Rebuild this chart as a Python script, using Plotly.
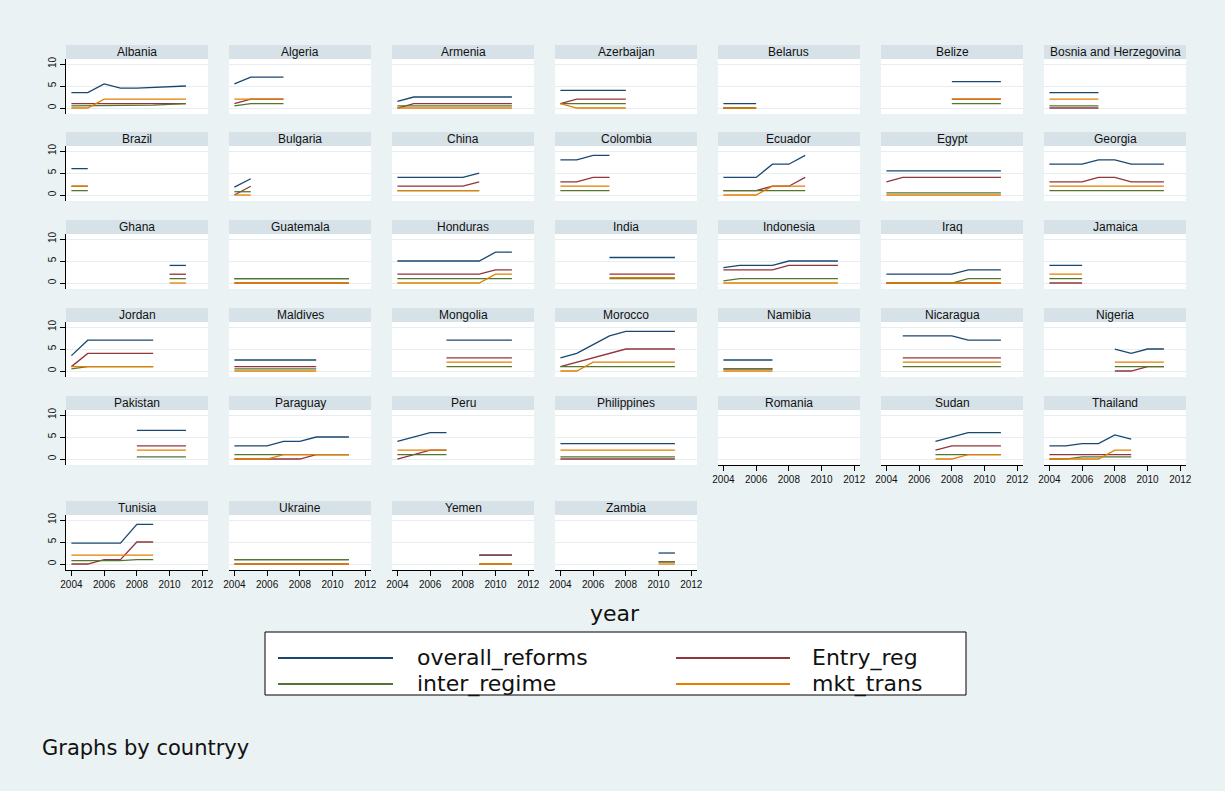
import plotly.graph_objects as go

# ---------------- data ----------------
countries = ["Albania", "Algeria", "Armenia", "Azerbaijan", "Belarus", "Belize", "Bosnia and Herzegovina",
             "Brazil", "Bulgaria", "China", "Colombia", "Ecuador", "Egypt", "Georgia",
             "Ghana", "Guatemala", "Honduras", "India", "Indonesia", "Iraq", "Jamaica",
             "Jordan", "Maldives", "Mongolia", "Morocco", "Namibia", "Nicaragua", "Nigeria",
             "Pakistan", "Paraguay", "Peru", "Philippines", "Romania", "Sudan", "Thailand",
             "Tunisia", "Ukraine", "Yemen", "Zambia"]

start_year = [2004, 2004, 2004, 2004, 2004, 2008, 2004,
              2004, 2004, 2004, 2004, 2004, 2004, 2004,
              2010, 2004, 2004, 2007, 2004, 2004, 2004,
              2004, 2004, 2007, 2004, 2004, 2005, 2008,
              2008, 2004, 2004, 2004, 2004, 2007, 2004,
              2004, 2004, 2009, 2010]

overall_reforms = [
    [3.5, 3.5, 5.5, 4.5, 4.5, 4.67, 4.83, 5],
    [5.5, 7, 7, 7],
    [1.5, 2.5, 2.5, 2.5, 2.5, 2.5, 2.5, 2.5],
    [4, 4, 4, 4, 4],
    [1, 1, 1],
    [6, 6, 6, 6],
    [3.5, 3.5, 3.5, 3.5],
    [6, 6],
    [1.8, 3.7],
    [4, 4, 4, 4, 4, 5],
    [8, 8, 9, 9],
    [4, 4, 4, 7, 7, 9],
    [5.5, 5.5, 5.5, 5.5, 5.5, 5.5, 5.5, 5.5],
    [7, 7, 7, 8, 8, 7, 7, 7],
    [4, 4],
    [1, 1, 1, 1, 1, 1, 1, 1],
    [5, 5, 5, 5, 5, 5, 7, 7],
    [5.8, 5.8, 5.8, 5.8, 5.8],
    [3.5, 4, 4, 4, 5, 5, 5, 5],
    [2, 2, 2, 2, 2, 3, 3, 3],
    [4, 4, 4],
    [3.5, 7, 7, 7, 7, 7],
    [2.5, 2.5, 2.5, 2.5, 2.5, 2.5],
    [7, 7, 7, 7, 7],
    [3, 4, 6, 8, 9, 9, 9, 9],
    [2.5, 2.5, 2.5, 2.5],
    [8, 8, 8, 8, 7, 7, 7],
    [5, 4, 5, 5],
    [6.5, 6.5, 6.5, 6.5],
    [3, 3, 3, 4, 4, 5, 5, 5],
    [4, 5, 6, 6],
    [3.5, 3.5, 3.5, 3.5, 3.5, 3.5, 3.5, 3.5],
    [],
    [4, 5, 6, 6, 6],
    [3, 3, 3.5, 3.5, 5.5, 4.5],
    [4.75, 4.75, 4.75, 4.75, 9, 9],
    [1, 1, 1, 1, 1, 1, 1, 1],
    [2, 2, 2],
    [2.5, 2.5],
]

entry_reg = [
    [1, 1, 1, 1, 1, 1, 1, 1],
    [1, 2, 2, 2],
    [0, 1, 1, 1, 1, 1, 1, 1],
    [1, 2, 2, 2, 2],
    [0, 0, 0],
    [2, 2, 2, 2],
    [0, 0, 0, 0],
    [2, 2],
    [0, 2],
    [2, 2, 2, 2, 2, 3],
    [3, 3, 4, 4],
    [1, 1, 1, 2, 2, 4],
    [3, 4, 4, 4, 4, 4, 4, 4],
    [3, 3, 3, 4, 4, 3, 3, 3],
    [2, 2],
    [0, 0, 0, 0, 0, 0, 0, 0],
    [2, 2, 2, 2, 2, 2, 3, 3],
    [2, 2, 2, 2, 2],
    [3, 3, 3, 3, 4, 4, 4, 4],
    [0, 0, 0, 0, 0, 0, 0, 0],
    [0, 0, 0],
    [1, 4, 4, 4, 4, 4],
    [1, 1, 1, 1, 1, 1],
    [3, 3, 3, 3, 3],
    [1, 2, 3, 4, 5, 5, 5, 5],
    [0.5, 0.5, 0.5, 0.5],
    [3, 3, 3, 3, 3, 3, 3],
    [0, 0, 1, 1],
    [3, 3, 3, 3],
    [0, 0, 0, 0, 0, 1, 1, 1],
    [0, 1, 2, 2],
    [0, 0, 0, 0, 0, 0, 0, 0],
    [],
    [2, 3, 3, 3, 3],
    [1, 1, 1, 1, 1, 1],
    [0, 0, 1, 1, 5, 5],
    [0, 0, 0, 0, 0, 0, 0, 0],
    [2, 2, 2],
    [0.5, 0.5],
]

inter_regime = [
    [0.5, 0.5, 0.5, 0.5, 0.5, 0.67, 0.83, 1],
    [0.5, 1, 1, 1],
    [0.5, 0.5, 0.5, 0.5, 0.5, 0.5, 0.5, 0.5],
    [1, 1, 1, 1, 1],
    [0, 0, 0],
    [1, 1, 1, 1],
    [0.5, 0.5, 0.5, 0.5],
    [1, 1],
    [0.75, 0.75],
    [1, 1, 1, 1, 1, 1],
    [1, 1, 1, 1],
    [1, 1, 1, 1, 1, 1],
    [0.5, 0.5, 0.5, 0.5, 0.5, 0.5, 0.5, 0.5],
    [1, 1, 1, 1, 1, 1, 1, 1],
    [1, 1],
    [1, 1, 1, 1, 1, 1, 1, 1],
    [1, 1, 1, 1, 1, 1, 1, 1],
    [1, 1, 1, 1, 1],
    [0.5, 1, 1, 1, 1, 1, 1, 1],
    [0, 0, 0, 0, 0, 1, 1, 1],
    [1, 1, 1],
    [0.5, 1, 1, 1, 1, 1],
    [0.5, 0.5, 0.5, 0.5, 0.5, 0.5],
    [1, 1, 1, 1, 1],
    [1, 1, 1, 1, 1, 1, 1, 1],
    [0.5, 0.5, 0.5, 0.5],
    [1, 1, 1, 1, 1, 1, 1],
    [1, 1, 1, 1],
    [0.5, 0.5, 0.5, 0.5],
    [1, 1, 1, 1, 1, 1, 1, 1],
    [1, 1, 1, 1],
    [0.5, 0.5, 0.5, 0.5, 0.5, 0.5, 0.5, 0.5],
    [],
    [1, 1, 1, 1, 1],
    [0, 0, 0.5, 0.5, 0.5, 0.5],
    [0.75, 0.75, 0.75, 0.75, 1, 1],
    [1, 1, 1, 1, 1, 1, 1, 1],
    [0, 0, 0],
    [0.5, 0.5],
]

mkt_trans = [
    [0, 0, 2, 2, 2, 2, 2, 2],
    [2, 2, 2, 2],
    [0, 0, 0, 0, 0, 0, 0, 0],
    [1, 0, 0, 0, 0],
    [0, 0, 0],
    [2, 2, 2, 2],
    [2, 2, 2, 2],
    [2, 2],
    [0, 0],
    [1, 1, 1, 1, 1, 1],
    [2, 2, 2, 2],
    [0, 0, 0, 2, 2, 2],
    [0, 0, 0, 0, 0, 0, 0, 0],
    [2, 2, 2, 2, 2, 2, 2, 2],
    [0, 0],
    [0, 0, 0, 0, 0, 0, 0, 0],
    [0, 0, 0, 0, 0, 0, 2, 2],
    [1.2, 1.2, 1.2, 1.2, 1.2],
    [0, 0, 0, 0, 0, 0, 0, 0],
    [0, 0, 0, 0, 0, 0, 0, 0],
    [2, 2, 2],
    [1, 1, 1, 1, 1, 1],
    [0, 0, 0, 0, 0, 0],
    [2, 2, 2, 2, 2],
    [0, 0, 2, 2, 2, 2, 2, 2],
    [0, 0, 0, 0],
    [2, 2, 2, 2, 2, 2, 2],
    [2, 2, 2, 2],
    [2, 2, 2, 2],
    [0, 0, 0, 1, 1, 1, 1, 1],
    [2, 2, 2, 2],
    [2, 2, 2, 2, 2, 2, 2, 2],
    [],
    [0, 0, 1, 1, 1],
    [0, 0, 0, 0, 2, 2],
    [2, 2, 2, 2, 2, 2],
    [0, 0, 0, 0, 0, 0, 0, 0],
    [0, 0, 0],
    [0, 0],
]

series_names = ["overall_reforms", "Entry_reg", "inter_regime", "mkt_trans"]
series_colors = ["#1A476F", "#90353B", "#55752F", "#E37E00"]
x_ticks = [2004, 2006, 2008, 2010, 2012]
y_ticks = [0, 5, 10]

# ---------------- layout geometry (pixels) ----------------
W, H = 1225, 791
NCOL = 7
col_left = [66, 229, 392, 555, 718, 881, 1044]
row_top = [59, 146, 234, 322, 410, 515]
PW, PH = 142, 55
STRIP = 14
BG = "#EAF2F3"
STRIP_BG = "#D7E2E8"
GRID = "#E6EEF1"
FONT = "Liberation Sans, Arial, sans-serif"
WIDE = "DejaVu Sans, Liberation Sans, sans-serif"


def fx(px):
    return px / W


def fy(py):
    return 1 - py / H


fig = go.Figure()
layout = dict(
    width=W, height=H,
    margin=dict(l=0, r=0, t=0, b=0, autoexpand=False),
    paper_bgcolor=BG, plot_bgcolor="white",
    showlegend=False,
    font=dict(family=FONT, color="#111111"),
)
shapes = []
annotations = []

n = len(countries)
series_data = [overall_reforms, entry_reg, inter_regime, mkt_trans]

for i, name in enumerate(countries):
    r, c = divmod(i, NCOL)
    left, top = col_left[c], row_top[r]
    ax = "" if i == 0 else str(i + 1)
    bottom_panel = (i + NCOL) >= n
    left_panel = (c == 0)

    xa = dict(
        domain=[fx(left), fx(left + PW)],
        anchor="y" + ax,
        range=[2003.67, 2012.35],
        showgrid=False, zeroline=False,
        tickvals=x_ticks,
    )
    if bottom_panel:
        xa.update(showline=True, linecolor="black", linewidth=1,
                  ticks="outside", ticklen=5, tickcolor="black", tickwidth=1,
                  showticklabels=True, tickfont=dict(size=10, color="#111111"))
    else:
        xa.update(showline=False, ticks="", showticklabels=False)

    ya = dict(
        domain=[fy(top + PH), fy(top)],
        anchor="x" + ax,
        range=[-1.36, 11.14],
        showgrid=True, gridcolor=GRID, gridwidth=1,
        zeroline=False, tickvals=y_ticks,
    )
    if left_panel:
        ya.update(showline=True, linecolor="black", linewidth=1,
                  ticks="outside", ticklen=5, tickcolor="black", tickwidth=1,
                  showticklabels=True, tickangle=-90,
                  tickfont=dict(size=10, color="#111111"))
    else:
        ya.update(showline=False, ticks="", showticklabels=False)

    layout["xaxis" + ax] = xa
    layout["yaxis" + ax] = ya

    yrs = [start_year[i] + k for k in range(len(overall_reforms[i]))]
    for s, (sname, color) in enumerate(zip(series_names, series_colors)):
        vals = series_data[s][i]
        fig.add_trace(go.Scatter(
            x=yrs, y=vals, mode="lines", name=sname,
            line=dict(color=color, width=1.3),
            xaxis="x" + ax, yaxis="y" + ax,
            hovertemplate=name + " " + sname + ": %{y}<extra></extra>",
        ))

    # strip title
    shapes.append(dict(type="rect", xref="paper", yref="paper",
                       x0=fx(left), x1=fx(left + PW), y0=fy(top), y1=fy(top - STRIP),
                       fillcolor=STRIP_BG, line=dict(width=0), layer="below"))
    annotations.append(dict(text=name, xref="paper", yref="paper",
                            x=fx(left + PW / 2), y=fy(top - STRIP / 2),
                            xanchor="center", yanchor="middle", showarrow=False,
                            font=dict(size=12, color="#111111")))

# x title
annotations.append(dict(text="year", xref="paper", yref="paper",
                        x=fx(615), y=fy(613), xanchor="center", yanchor="middle",
                        showarrow=False, font=dict(family=WIDE, size=22, color="#111111")))

# legend (drawn manually, two columns)
box = (265, 632, 966, 695)
shapes.append(dict(type="rect", xref="paper", yref="paper",
                   x0=fx(box[0]), x1=fx(box[2]), y0=fy(box[3]), y1=fy(box[1]),
                   fillcolor="white", line=dict(color="black", width=1)))
leg_cols = [(278, 393, 415), (676, 790, 810)]
leg_rows = [658, 684]
for k, (sname, color) in enumerate(zip(series_names, series_colors)):
    rr, cc = divmod(k, 2)
    x0, x1, xt = leg_cols[cc]
    yy = leg_rows[rr]
    shapes.append(dict(type="line", xref="paper", yref="paper",
                       x0=fx(x0), x1=fx(x1), y0=fy(yy), y1=fy(yy),
                       line=dict(color=color, width=2)))
    annotations.append(dict(text=sname, xref="paper", yref="paper",
                            x=fx(xt), y=fy(yy), xanchor="left", yanchor="middle",
                            showarrow=False, font=dict(family=WIDE, size=22, color="#111111")))

annotations.append(dict(text="Graphs by countryy", xref="paper", yref="paper",
                        x=fx(40), y=fy(748), xanchor="left", yanchor="middle",
                        showarrow=False, font=dict(family=WIDE, size=21, color="#111111")))

layout["shapes"] = shapes
layout["annotations"] = annotations
fig.update_layout(**layout)

fig.write_html("out.html", config={"displayModeBar": False},
               post_script="document.body.style.margin='0';document.body.style.overflow='hidden';")
